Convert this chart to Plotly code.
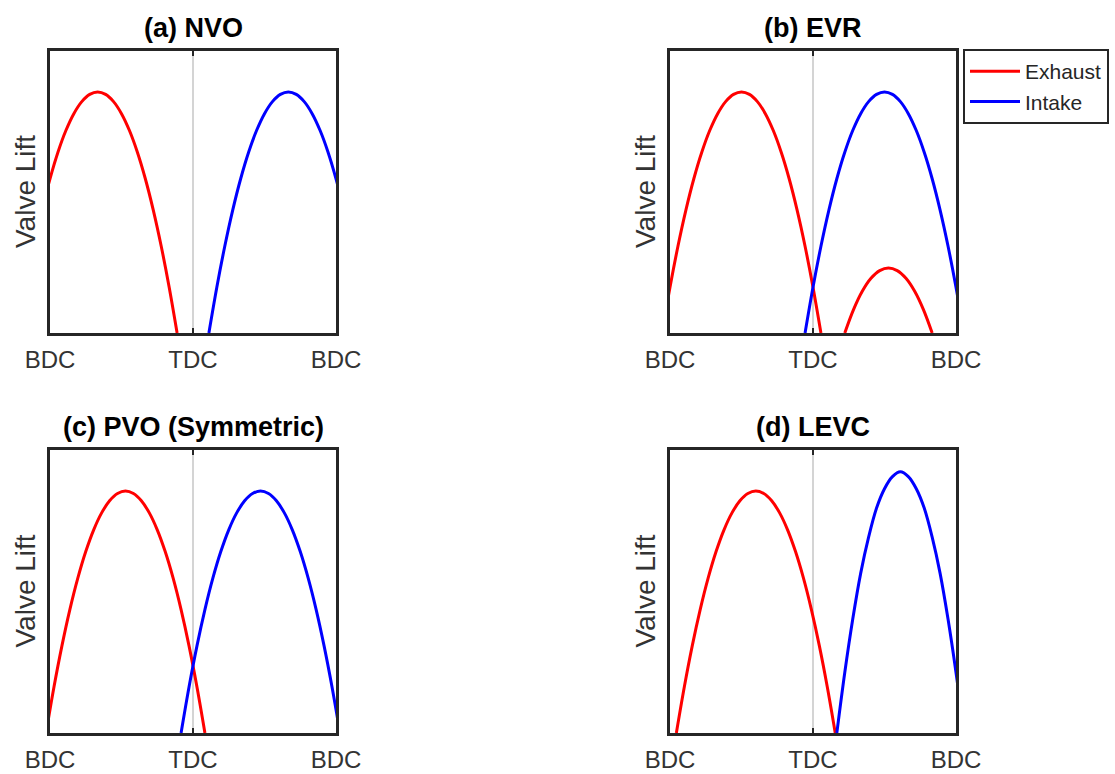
import plotly.graph_objects as go

# ---------------- data (crank angle in degrees, TDC = 0) ----------------
tick_vals = [-180, 0, 180]
tick_text = ["BDC", "TDC", "BDC"]
titles = ["(a) NVO", "(b) EVR", "(c) PVO (Symmetric)", "(d) LEVC"]

# (a) NVO
a_exh_x = [-220, -210, -200, -190, -180, -170, -160, -150, -140, -130, -120, -110, -100, -90, -80, -70, -60, -50, -40, -30, -20]
a_exh_y = [0.0, 0.19, 0.36, 0.51, 0.64, 0.75, 0.84, 0.91, 0.96, 0.99, 1.00, 0.99, 0.96, 0.91, 0.84, 0.75, 0.64, 0.51, 0.36, 0.19, 0.0]
a_int_x = [20, 30, 40, 50, 60, 70, 80, 90, 100, 110, 120, 130, 140, 150, 160, 170, 180, 190, 200, 210, 220]
a_int_y = [0.0, 0.19, 0.36, 0.51, 0.64, 0.75, 0.84, 0.91, 0.96, 0.99, 1.00, 0.99, 0.96, 0.91, 0.84, 0.75, 0.64, 0.51, 0.36, 0.19, 0.0]

# (b) EVR
b_exh_x = [-190, -180, -170, -160, -150, -140, -130, -120, -110, -100, -90, -80, -70, -60, -50, -40, -30, -20, -10, 0, 10]
b_exh_y = [0.0, 0.19, 0.36, 0.51, 0.64, 0.75, 0.84, 0.91, 0.96, 0.99, 1.00, 0.99, 0.96, 0.91, 0.84, 0.75, 0.64, 0.51, 0.36, 0.19, 0.0]
b_int_x = [-10, 0, 10, 20, 30, 40, 50, 60, 70, 80, 90, 100, 110, 120, 130, 140, 150, 160, 170, 180, 190]
b_int_y = [0.0, 0.19, 0.36, 0.51, 0.64, 0.75, 0.84, 0.91, 0.96, 0.99, 1.00, 0.99, 0.96, 0.91, 0.84, 0.75, 0.64, 0.51, 0.36, 0.19, 0.0]
b_reb_x = [40, 51, 62, 73, 84, 95, 106, 117, 128, 139, 150]
b_reb_y = [0.0, 0.097, 0.173, 0.227, 0.259, 0.27, 0.259, 0.227, 0.173, 0.097, 0.0]

# (c) PVO (Symmetric)
c_exh_x = [-185, -175, -165, -155, -145, -135, -125, -115, -105, -95, -85, -75, -65, -55, -45, -35, -25, -15, -5, 5, 15]
c_exh_y = [0.0, 0.19, 0.36, 0.51, 0.64, 0.75, 0.84, 0.91, 0.96, 0.99, 1.00, 0.99, 0.96, 0.91, 0.84, 0.75, 0.64, 0.51, 0.36, 0.19, 0.0]
c_int_x = [-15, -5, 5, 15, 25, 35, 45, 55, 65, 75, 85, 95, 105, 115, 125, 135, 145, 155, 165, 175, 185]
c_int_y = [0.0, 0.19, 0.36, 0.51, 0.64, 0.75, 0.84, 0.91, 0.96, 0.99, 1.00, 0.99, 0.96, 0.91, 0.84, 0.75, 0.64, 0.51, 0.36, 0.19, 0.0]

# (d) LEVC
d_exh_x = [-172, -162, -152, -142, -132, -122, -112, -102, -92, -82, -72, -62, -52, -42, -32, -22, -12, -2, 8, 18, 28]
d_exh_y = [0.0, 0.19, 0.36, 0.51, 0.64, 0.75, 0.84, 0.91, 0.96, 0.99, 1.00, 0.99, 0.96, 0.91, 0.84, 0.75, 0.64, 0.51, 0.36, 0.19, 0.0]
d_int_x = [30, 40, 50, 60, 70, 80, 90, 100, 110, 120, 130, 140, 150, 160, 170, 180, 190]
d_int_y = [0.0, 0.25, 0.47, 0.66, 0.81, 0.93, 1.01, 1.06, 1.08, 1.06, 1.01, 0.93, 0.81, 0.66, 0.47, 0.25, 0.0]

RED = "#ff0000"
BLUE = "#0000ff"
DARK = "#262626"
FONT = "Liberation Sans, Arial, Helvetica, sans-serif"

W, H = 1115, 774
# panel pixel boxes (left, right, top, bottom)
boxes = [(50, 336, 51, 333), (670, 956, 51, 333), (50, 336, 450, 733), (670, 956, 450, 733)]

panels = [
    [(a_exh_x, a_exh_y, RED, "Exhaust"), (a_int_x, a_int_y, BLUE, "Intake")],
    [(b_exh_x, b_exh_y, RED, "Exhaust"), (b_int_x, b_int_y, BLUE, "Intake"), (b_reb_x, b_reb_y, RED, None)],
    [(c_exh_x, c_exh_y, RED, "Exhaust"), (c_int_x, c_int_y, BLUE, "Intake")],
    [(d_exh_x, d_exh_y, RED, "Exhaust"), (d_int_x, d_int_y, BLUE, "Intake")],
]

fig = go.Figure()
layout = dict(
    template="none",
    width=W, height=H,
    margin=dict(l=0, r=0, t=0, b=0, autoexpand=False),
    paper_bgcolor="white", plot_bgcolor="white",
    font=dict(family=FONT, color=DARK),
    shapes=[], annotations=[],
    legend=dict(
        x=963 / W, y=1 - 49 / H, xanchor="left", yanchor="top",
        bordercolor=DARK, borderwidth=2, bgcolor="white",
        font=dict(size=21, color=DARK, family=FONT),
        tracegroupgap=0, itemwidth=50,
    ),
)

for i, (box, traces) in enumerate(zip(boxes, panels)):
    l, r, t, b = box
    n = "" if i == 0 else str(i + 1)
    xa, ya = "x" + n, "y" + n
    for (xs, ys, col, name) in traces:
        fig.add_trace(go.Scatter(
            x=xs, y=ys, mode="lines", line=dict(color=col, width=3, shape="spline"),
            name=name if name else "", showlegend=(i == 1 and name is not None),
            xaxis=xa, yaxis=ya, hoverinfo="skip",
        ))
    layout["xaxis" + n] = dict(
        domain=[l / W, r / W], range=[-180, 180], anchor=ya, automargin=False,
        tickvals=tick_vals, ticktext=tick_text, ticks="inside", ticklen=5, tickwidth=2,
        tickcolor=DARK, showline=True, linewidth=3, linecolor=DARK, mirror="ticks",
        showgrid=False, zeroline=False, fixedrange=True, ticklabelstandoff=3,
        tickfont=dict(size=24, color="#333333", family=FONT),
    )
    layout["yaxis" + n] = dict(
        domain=[1 - b / H, 1 - t / H], range=[0, 1.17], anchor=xa, automargin=False,
        showticklabels=False, ticks="", showline=True, linewidth=3, linecolor=DARK,
        mirror=True, showgrid=False, zeroline=False, fixedrange=True,
    )
    # TDC reference line
    layout["shapes"].append(dict(
        type="line", xref=xa, yref=ya + " domain", x0=0, x1=0, y0=0, y1=1,
        line=dict(color="#d4d4d4", width=2), layer="below",
    ))
    # panel title
    layout["annotations"].append(dict(
        text="<b>" + titles[i] + "</b>", xref="paper", yref="paper",
        x=(l + r) / 2 / W, y=1 - (t - 23) / H, xanchor="center", yanchor="middle",
        showarrow=False, font=dict(size=27, color="#000000", family=FONT),
    ))
    # y-axis label
    layout["annotations"].append(dict(
        text="Valve Lift", xref="paper", yref="paper",
        x=(l - 25) / W, y=1 - (t + b) / 2 / H, xanchor="center", yanchor="middle",
        textangle=-90, showarrow=False, font=dict(size=28, color="#333333", family=FONT),
    ))

fig.update_layout(**layout)
fig.write_html("out.html")
